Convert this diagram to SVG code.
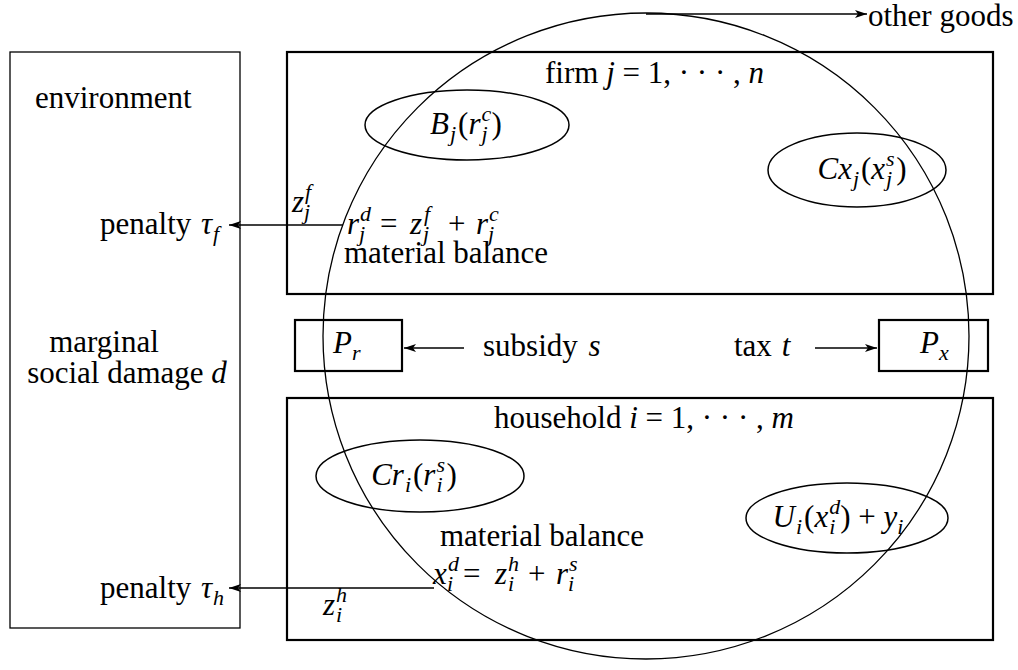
<svg xmlns="http://www.w3.org/2000/svg" width="1018" height="670" viewBox="0 0 1018 670">
<style>
text{font-family:"Liberation Serif","Times New Roman",serif;font-size:31px;fill:#000}
.i{font-style:italic}
.s{font-size:22px;font-style:italic}
.thin{fill:none;stroke:#000;stroke-width:1.3}
.thick{fill:none;stroke:#000;stroke-width:2.2}
.ell{fill:none;stroke:#000;stroke-width:1.5}
.ln{fill:none;stroke:#000;stroke-width:1.3}
</style>
<defs>
<marker id="ah" viewBox="0 0 12 8" refX="12" refY="4" markerWidth="12" markerHeight="8" markerUnits="userSpaceOnUse" orient="auto">
<path d="M0,0 L12,4 L0,8 L3,4 Z" fill="#000"/>
</marker>
</defs>
<rect width="1018" height="670" fill="#fff"/>

<g id="environment">
<rect class="thin" x="10" y="52" width="230" height="576"/>
<text x="35" y="108">environment</text>
<text x="100" y="234">penalty <tspan class="i" dx="2">τ</tspan><tspan class="s" dx="1" dy="7">f</tspan></text>
<text x="104" y="352" text-anchor="middle">marginal</text>
<text x="127" y="383" text-anchor="middle">social damage <tspan class="i">d</tspan></text>
<text x="100" y="598">penalty <tspan class="i" dx="2">τ</tspan><tspan class="s" dx="1" dy="7">h</tspan></text>
</g>

<g id="firm">
<rect class="thick" x="287" y="52" width="706" height="242"/>
<text x="545" y="83">firm <tspan class="i">j</tspan> = 1, · · · , <tspan class="i">n</tspan></text>
<text y="212" class="i"><tspan x="292">z</tspan><tspan class="s" x="305" dy="-13">f</tspan><tspan class="s" x="304" dy="20">j</tspan></text>
<text y="234"><tspan class="i" x="347">r</tspan><tspan class="s" x="360" dy="-13">d</tspan><tspan class="s" x="359" dy="20">j</tspan><tspan x="380" dy="-7">=</tspan><tspan class="i" x="410">z</tspan><tspan class="s" x="424" dy="-13">f</tspan><tspan class="s" x="423" dy="20">j</tspan><tspan x="448" dy="-7">+</tspan><tspan class="i" x="476">r</tspan><tspan class="s" x="489" dy="-13">c</tspan><tspan class="s" x="488" dy="20">j</tspan></text>
<text x="344" y="263">material balance</text>
</g>

<g id="benefit-firm">
<ellipse class="ell" cx="467" cy="125" rx="102" ry="35"/>
<text x="466" y="134" text-anchor="middle"><tspan class="i">B</tspan><tspan class="s" dx="1" dy="7">j</tspan><tspan dx="2" dy="-7">(</tspan><tspan class="i">r</tspan><tspan class="s" dx="1" dy="-13">c</tspan><tspan class="s" dx="-9.8" dy="20">j</tspan><tspan dx="4" dy="-7">)</tspan></text>
</g>

<g id="cost-firm">
<ellipse class="ell" cx="857" cy="170" rx="89" ry="37"/>
<text x="862" y="179" text-anchor="middle"><tspan class="i">Cx</tspan><tspan class="s" dx="1" dy="7">j</tspan><tspan dx="2" dy="-7">(</tspan><tspan class="i">x</tspan><tspan class="s" dx="1" dy="-13">s</tspan><tspan class="s" dx="-8.6" dy="20">j</tspan><tspan dx="4" dy="-7">)</tspan></text>
</g>

<g id="price-r">
<rect class="thick" x="295" y="320" width="107" height="51"/>
<text x="333" y="353"><tspan class="i">P</tspan><tspan class="s" dy="7">r</tspan></text>
</g>

<g id="subsidy">
<text x="483" y="356">subsidy <tspan class="i" dx="3">s</tspan></text>
</g>

<g id="tax">
<text x="734" y="356">tax <tspan class="i" dx="2">t</tspan></text>
</g>

<g id="price-x">
<rect class="thick" x="879" y="320" width="109" height="51"/>
<text x="920" y="353"><tspan class="i">P</tspan><tspan class="s" dy="7">x</tspan></text>
</g>

<g id="household">
<rect class="thick" x="287" y="398" width="706" height="242"/>
<text x="494" y="428">household <tspan class="i">i</tspan> = 1, · · · , <tspan class="i">m</tspan></text>
<text x="440" y="546">material balance</text>
<text y="584"><tspan class="i" x="433">x</tspan><tspan class="s" x="448" dy="-13">d</tspan><tspan class="s" x="447" dy="20">i</tspan><tspan x="463" dy="-7">=</tspan><tspan class="i" x="495">z</tspan><tspan class="s" x="508" dy="-13">h</tspan><tspan class="s" x="508" dy="20">i</tspan><tspan x="528" dy="-7">+</tspan><tspan class="i" x="556">r</tspan><tspan class="s" x="569" dy="-13">s</tspan><tspan class="s" x="568" dy="20">i</tspan></text>
<text y="615" class="i"><tspan x="323">z</tspan><tspan class="s" x="336" dy="-13">h</tspan><tspan class="s" x="336" dy="20">i</tspan></text>
</g>

<g id="cost-household">
<ellipse class="ell" cx="420" cy="476" rx="104" ry="36"/>
<text x="414" y="485" text-anchor="middle"><tspan class="i">Cr</tspan><tspan class="s" dx="1" dy="7">i</tspan><tspan dx="2" dy="-7">(</tspan><tspan class="i">r</tspan><tspan class="s" dx="1" dy="-13">s</tspan><tspan class="s" dx="-8.6" dy="20">i</tspan><tspan dx="4" dy="-7">)</tspan></text>
</g>

<g id="utility-household">
<ellipse class="ell" cx="847" cy="518" rx="101" ry="35"/>
<text x="838" y="527" text-anchor="middle"><tspan class="i">U</tspan><tspan class="s" dx="1" dy="7">i</tspan><tspan dx="2" dy="-7">(</tspan><tspan class="i">x</tspan><tspan class="s" dx="1" dy="-13">d</tspan><tspan class="s" dx="-11" dy="20">i</tspan><tspan dx="5" dy="-7">) + </tspan><tspan class="i">y</tspan><tspan class="s" dy="7">i</tspan></text>
</g>

<g id="market">
<circle class="thin" cx="646" cy="336" r="323"/>
</g>

<g id="other-goods">
<text x="868" y="26">other goods</text>
</g>

<g id="connectors">
<line class="ln" x1="646" y1="14" x2="867" y2="14" marker-end="url(#ah)"/>
<line class="ln" x1="343" y1="225" x2="229" y2="225" marker-end="url(#ah)"/>
<line class="ln" x1="434" y1="588" x2="229" y2="588" marker-end="url(#ah)"/>
<line class="ln" x1="464" y1="348" x2="404" y2="348" marker-end="url(#ah)"/>
<line class="ln" x1="815" y1="348" x2="877" y2="348" marker-end="url(#ah)"/>
</g>
</svg>
